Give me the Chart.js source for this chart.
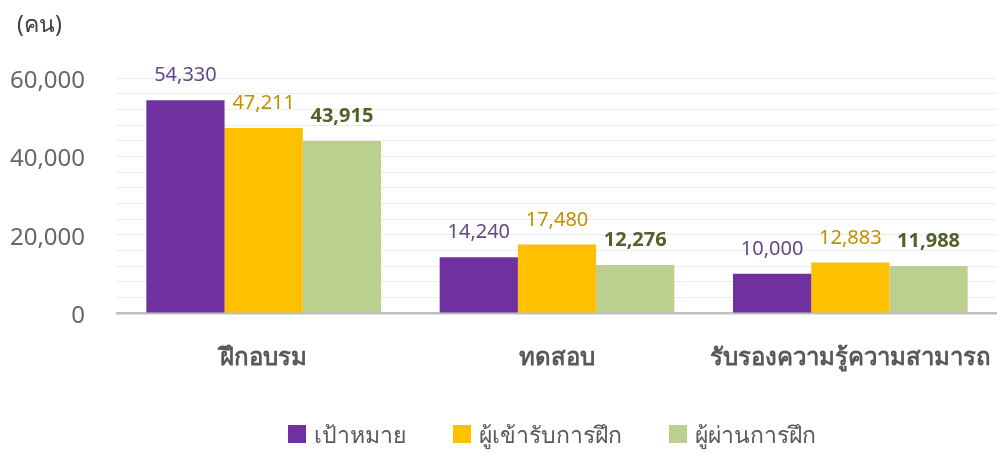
<!DOCTYPE html>
<html>
<head>
<meta charset="utf-8">
<script src="https://cdn.jsdelivr.net/npm/chart.js@4/dist/chart.umd.min.js"></script>
<style>
  html, body { margin: 0; padding: 0; background: #fff; }
  #wrap { width: 997px; height: 455px; position: relative; }
</style>
</head>
<body>
<div id="wrap"><canvas id="chart"></canvas></div>
<script>
const categories = ['ฝึกอบรม', 'ทดสอบ', 'รับรองความรู้ความสามารถ'];
const seriesNames = ['เป้าหมาย', 'ผู้เข้ารับการฝึก', 'ผู้ผ่านการฝึก'];
const targetValues = [54330, 14240, 10000];
const traineeValues = [47211, 17480, 12883];
const passedValues = [43915, 12276, 11988];
const yTickLabels = [0, 20000, 40000, 60000];

const barColors = ['#7030a0', '#ffc000', '#bbd08f'];
const labelColors = ['#604a86', '#bf9000', '#4f6228'];
const labelWeights = ['normal', 'normal', 'bold'];
const FONT = "'Noto Sans', 'Leelawadee UI', Tahoma, sans-serif";

// Value labels above every bar
const valueLabels = {
    id: 'valueLabels',
    afterDatasetsDraw(chart) {
        const ctx = chart.ctx;
        ctx.save();
        ctx.textAlign = 'center';
        ctx.textBaseline = 'alphabetic';
        chart.data.datasets.forEach((ds, i) => {
            const meta = chart.getDatasetMeta(i);
            ctx.fillStyle = labelColors[i];
            ctx.font = `${labelWeights[i]} 20px ${FONT}`;
            meta.data.forEach((bar, j) => {
                ctx.fillText(ds.data[j].toLocaleString('en-US'), bar.x, bar.y - 19);
            });
        });
        ctx.restore();
    }
};

// Unit caption top-left, legend centred under the plot area
const extras = {
    id: 'extras',
    afterDraw(chart) {
        const ctx = chart.ctx;
        ctx.save();
        ctx.fillStyle = '#404040';
        ctx.font = `23px ${FONT}`;
        ctx.textAlign = 'left';
        ctx.textBaseline = 'alphabetic';
        ctx.fillText('(คน)', 17, 32);

        // legend
        const box = 18, boxGap = 8, itemGap = 47, baseY = 443;
        ctx.font = `23px ${FONT}`;
        const widths = seriesNames.map(n => ctx.measureText(n).width);
        const total = widths.reduce((a, w) => a + box + boxGap + w, 0) + itemGap * (seriesNames.length - 1);
        const area = chart.chartArea;
        let x = (area.left + area.right) / 2 - total / 2 - 5;
        seriesNames.forEach((name, i) => {
            ctx.fillStyle = barColors[i];
            ctx.fillRect(x, 425, box, box);
            ctx.fillStyle = '#595959';
            ctx.fillText(name, x + box + boxGap, baseY);
            x += box + boxGap + widths[i] + itemGap;
        });
        ctx.restore();
    }
};

new Chart(document.getElementById('chart'), {
    type: 'bar',
    data: {
        labels: categories,
        datasets: [targetValues, traineeValues, passedValues].map((vals, i) => ({
            label: seriesNames[i],
            data: vals,
            backgroundColor: barColors[i],
            borderWidth: 0,
            categoryPercentage: 0.8,
            barPercentage: 1.0
        }))
    },
    options: {
        responsive: true,
        maintainAspectRatio: false,
        animation: false,
        layout: { padding: { top: 78, right: 0, left: 0, bottom: 62 } },
        plugins: {
            tooltip: { enabled: false },
            legend: { display: false }
        },
        scales: {
            x: {
                afterFit(scale) {
                    scale.height = 80;
                    scale.paddingLeft = 0;
                    scale.paddingRight = 0;
                },
                grid: { display: false },
                border: { display: true, color: '#bfbfbf', width: 2.5 },
                ticks: {
                    color: '#595959',
                    padding: 23,
                    maxRotation: 0,
                    autoSkip: false,
                    font: { family: FONT, size: 24, weight: 'bold' }
                }
            },
            y: {
                min: 0,
                max: 60000,
                afterFit(scale) { scale.width = 117; },
                border: { display: false },
                grid: { color: '#ececec', lineWidth: 1, drawTicks: false },
                ticks: {
                    stepSize: 4000,
                    autoSkip: false,
                    padding: 32,
                    labelOffset: 3,
                    color: '#666666',
                    font: { family: FONT, size: 24 },
                    callback: v => yTickLabels.includes(v) ? v.toLocaleString('en-US') : ''
                }
            }
        }
    },
    plugins: [valueLabels, extras]
});
</script>
</body>
</html>
